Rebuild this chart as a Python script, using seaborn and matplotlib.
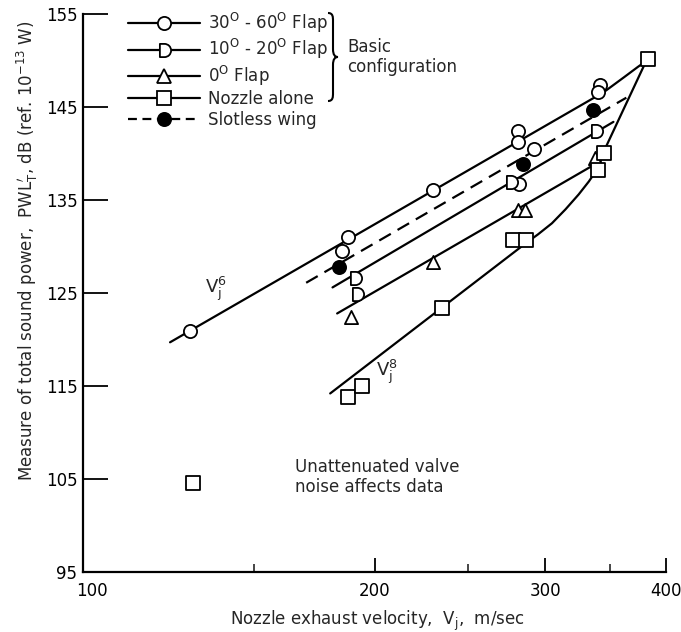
import numpy as np
import pandas as pd
import matplotlib
matplotlib.use("Agg")
import matplotlib.pyplot as plt
import seaborn as sns
from matplotlib.path import Path
from matplotlib.lines import Line2D
from matplotlib.markers import MarkerStyle
import matplotlib.patches as mpatches
import matplotlib.transforms as mtransforms
from matplotlib.ticker import FixedLocator, FixedFormatter, NullFormatter

# ---------------- data ----------------
flap3060_x = [129, 188, 185, 230, 281, 281, 292, 282, 342, 340]
flap3060_y = [120.9, 131.0, 129.5, 136.1, 142.4, 141.2, 140.5, 136.7, 147.4, 146.6]

flap1020_x = [191, 192, 277, 339]
flap1020_y = [126.6, 124.9, 136.9, 142.4]

flap0_x = [189, 230, 281, 286, 338]
flap0_y = [122.4, 128.3, 133.9, 133.9, 139.5]

nozzle_x = [130, 188, 194, 235, 278, 287, 340, 345, 383]
nozzle_y = [104.6, 113.8, 115.0, 123.4, 130.7, 130.7, 138.2, 140.1, 150.2]

slotless_x = [184, 285, 336]
slotless_y = [127.8, 138.9, 144.7]

# faired curves
line3060_x = [123, 345, 362, 374, 381]
line3060_y = [119.7, 146.6, 148.2, 149.3, 149.9]
lineslot_x = [170, 364]
lineslot_y = [126.1, 146.0]
line1020_x = [181, 353]
line1020_y = [125.6, 143.4]
line0_x = [183, 336]
line0_y = [122.8, 138.7]
linenoz_x = [180, 287, 295, 305, 315, 325, 333, 338, 342, 346, 381]
linenoz_y = [114.2, 130.4, 131.3, 132.5, 134.0, 135.6, 137.0, 138.0, 139.0, 140.5, 149.8]

x_ticks = [100, 200, 300, 400]
x_minor = [150, 250, 350]
y_ticks = [95, 105, 115, 125, 135, 145, 155]

labels = [r"30$^\mathrm{O}$ - 60$^\mathrm{O}$ Flap",
          r"10$^\mathrm{O}$ - 20$^\mathrm{O}$ Flap",
          r"0$^\mathrm{O}$ Flap",
          "Nozzle alone",
          "Slotless wing"]

# ---------------- style ----------------
sns.set_theme(style="white")
plt.rcParams["font.family"] = ["DejaVu Sans"]
plt.rcParams["mathtext.fontset"] = "dejavusans"
FS = 12

fig = plt.figure(figsize=(6.81, 6.32), dpi=100)
ax = fig.add_axes([83 / 681, 1 - 572 / 632, 583 / 681, 558 / 632])
ax.set_xscale("log")

# D-shaped marker (flat left side, round right side)
arc = Path.arc(-90, 90)
d_verts = [(-0.7, -1.0), (0.0, -1.0)] + [tuple(v) for v in arc.vertices[1:]] + [(-0.7, 1.0), (-0.7, -1.0)]
d_codes = [Path.MOVETO, Path.LINETO] + list(arc.codes[1:]) + [Path.LINETO, Path.CLOSEPOLY]
D_MARK = MarkerStyle(Path(d_verts, d_codes))

LW = 1.6
# lines
for lx, ly in [(line3060_x, line3060_y), (line1020_x, line1020_y),
               (line0_x, line0_y), (linenoz_x, linenoz_y)]:
    sns.lineplot(x=lx, y=ly, ax=ax, color="black", lw=LW, sort=False,
                 estimator=None)
sns.lineplot(x=lineslot_x, y=lineslot_y, ax=ax, color="black", lw=LW, sort=False,
             estimator=None, linestyle=(0, (6, 3.5)))

# points
MS = 90
EW = 1.3
sns.scatterplot(x=flap3060_x, y=flap3060_y, ax=ax, marker="o", s=MS,
                facecolor="white", edgecolor="black", linewidth=EW, zorder=3)
sns.scatterplot(x=flap1020_x, y=flap1020_y, ax=ax, marker=D_MARK, s=MS,
                facecolor="white", edgecolor="black", linewidth=EW, zorder=3)
sns.scatterplot(x=flap0_x, y=flap0_y, ax=ax, marker="^", s=MS,
                facecolor="white", edgecolor="black", linewidth=EW, zorder=3)
sns.scatterplot(x=nozzle_x, y=nozzle_y, ax=ax, marker="s", s=MS,
                facecolor="white", edgecolor="black", linewidth=EW, zorder=3)
sns.scatterplot(x=slotless_x, y=slotless_y, ax=ax, marker="o", s=MS,
                facecolor="black", edgecolor="black", linewidth=EW, zorder=4)

# axes
ax.set_xlim(100, 400)
ax.set_ylim(95, 155)
ax.xaxis.set_major_locator(FixedLocator(x_ticks))
ax.xaxis.set_major_formatter(FixedFormatter([str(v) for v in x_ticks]))
ax.xaxis.set_minor_locator(FixedLocator(x_minor))
ax.xaxis.set_minor_formatter(NullFormatter())
ax.yaxis.set_major_locator(FixedLocator(y_ticks))
ax.set_yticklabels([str(v) for v in y_ticks])
ax.tick_params(axis="y", which="major", direction="in", length=18, width=1.3,
               labelsize=FS, pad=4, left=True, colors="black")
ax.tick_params(axis="x", which="major", direction="in", length=10, width=1.3,
               labelsize=FS, pad=7, bottom=True, colors="black")
ax.tick_params(axis="x", which="minor", direction="in", length=6, width=1.2,
               bottom=True)
for s in ["top", "right"]:
    ax.spines[s].set_visible(False)
for s in ["left", "bottom"]:
    ax.spines[s].set_color("black")
    ax.spines[s].set_linewidth(1.6)
ax.grid(False)

# shift the "100" label to the right, as in the reference
fig.canvas.draw()
first = ax.get_xticklabels()[0]
first.set_transform(first.get_transform() +
                    mtransforms.ScaledTranslation(9 / 100, 0, fig.dpi_scale_trans))

ax.set_xlabel(r"Nozzle exhaust velocity,  V$_\mathrm{j}$,  m/sec", fontsize=FS)
ax.set_ylabel(r"Measure of total sound power,  PWL$_\mathrm{T}^{\prime}$, dB (ref. 10$^{-13}$ W)",
              fontsize=FS)
ax.xaxis.set_label_coords(0.505, -0.066)
ax.yaxis.set_label_coords(-0.074, 0.575)

# annotations
ax.text(137, 125.5, r"V$_\mathrm{j}^6$", fontsize=FS + 1, ha="center", va="center")
ax.text(206, 116.5, r"V$_\mathrm{j}^8$", fontsize=FS + 1, ha="center", va="center")
ax.text(165.5, 105.2, "Unattenuated valve\nnoise affects data", fontsize=FS,
        ha="left", va="center", linespacing=1.1)

# legends
def h(marker, fc="white", ls="-"):
    return Line2D([], [], color="black", lw=LW, ls=ls, marker=marker, mfc=fc,
                  mec="black", ms=9.5, mew=EW)

handles1 = [h("o"), h(D_MARK), h("^"), h("s")]
leg1 = ax.legend(handles1, labels[:4], loc="upper left", bbox_to_anchor=(0.077, 1.005),
                 frameon=False, fontsize=FS, handlelength=4.3, handletextpad=0.5,
                 labelspacing=0.12, borderpad=0, borderaxespad=0)
ax.add_artist(leg1)
leg2 = ax.legend([h("o", fc="black", ls=(0, (4, 2.5)))], labels[4:], loc="upper left",
                 bbox_to_anchor=(0.077, 0.826), frameon=False, fontsize=FS,
                 handlelength=4.3, handletextpad=0.5, borderpad=0, borderaxespad=0)

# brace "}" next to the basic-configuration entries
def fx(px):
    return (px - 83) / 583
def fy(py):
    return (572 - py) / 558
bx, top, bot, mid, w = 328, 13, 101, 57, 5
verts = [(fx(bx), fy(top)), (fx(bx + w), fy(top)), (fx(bx + w), fy(top + 4)), (fx(bx + w), fy(top + 8)),
         (fx(bx + w), fy(mid - 8)),
         (fx(bx + w), fy(mid - 2)), (fx(bx + w + 2), fy(mid)), (fx(bx + w + 5), fy(mid)),
         (fx(bx + w + 2), fy(mid)), (fx(bx + w), fy(mid + 2)), (fx(bx + w), fy(mid + 8)),
         (fx(bx + w), fy(bot - 8)),
         (fx(bx + w), fy(bot - 4)), (fx(bx + w), fy(bot)), (fx(bx), fy(bot))]
codes = [Path.MOVETO, Path.CURVE4, Path.CURVE4, Path.CURVE4, Path.LINETO,
         Path.CURVE4, Path.CURVE4, Path.CURVE4,
         Path.CURVE4, Path.CURVE4, Path.CURVE4, Path.LINETO,
         Path.CURVE4, Path.CURVE4, Path.CURVE4]
ax.add_patch(mpatches.PathPatch(Path(verts, codes), transform=ax.transAxes, fill=False,
                                lw=1.5, edgecolor="black", clip_on=False))
ax.text(fx(347), fy(mid), "Basic\nconfiguration", transform=ax.transAxes, fontsize=FS,
        ha="left", va="center", linespacing=1.15)

fig.savefig("out.png", dpi=100)
